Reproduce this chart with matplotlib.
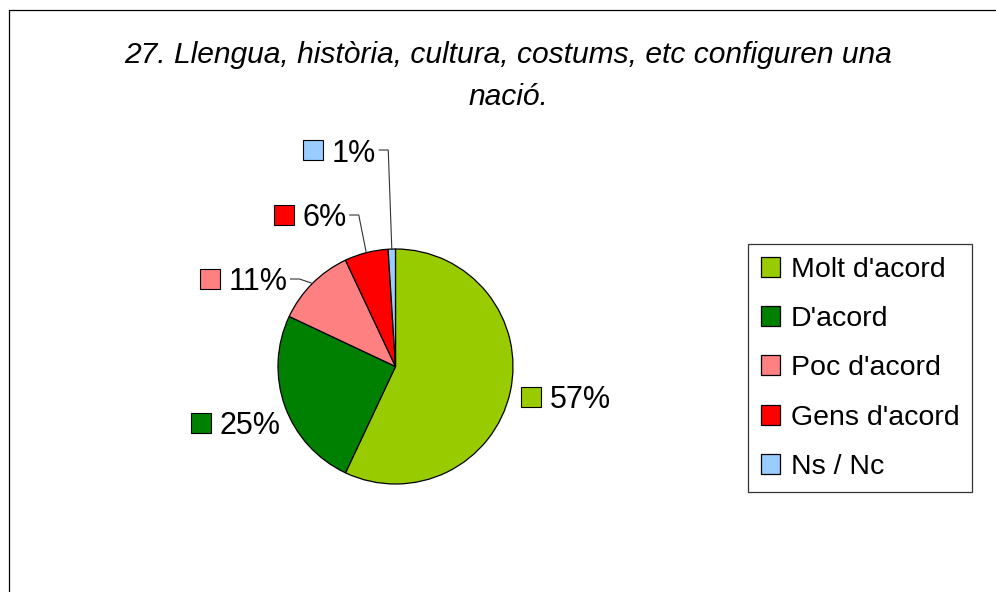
import numpy as np
import matplotlib
matplotlib.use("Agg")
import matplotlib.pyplot as plt
from matplotlib.patches import Rectangle

plt.rcParams["font.family"] = ["Liberation Sans", "DejaVu Sans"]

# data
title = "27. Llengua, història, cultura, costums, etc configuren una\nnació."
categories = ["Molt d'acord", "D'acord", "Poc d'acord", "Gens d'acord", "Ns / Nc"]
shares = [57, 25, 11, 6, 1]
colors = ["#99CC00", "#008000", "#FF8080", "#FF0000", "#99CCFF"]

W, H = 996, 592
fig = plt.figure(figsize=(W / 100, H / 100), dpi=100)


def fx(px):
    return px / W


def fy(py):
    return 1 - py / H


# outer chart border (runs off the right and bottom edge)
fig.patches.append(Rectangle((fx(9), -0.5), 2, fy(10) + 0.5, transform=fig.transFigure,
                             fill=False, edgecolor="black", linewidth=0.9))

# va="baseline" pins the last line, "nació."
fig.text(fx(508), fy(105), title, ha="center", va="baseline", fontsize=21.6,
         style="italic", linespacing=1.65)

# pie, centre (395.5, 366.5), radius 117.5 px
cx, cy, r = 395.5, 366.5, 117.5
ax = fig.add_axes([fx(cx - r), fy(cy + r), 2 * r / W, 2 * r / H])
wedges, _ = ax.pie(shares, colors=colors, startangle=90, counterclock=False,
                   wedgeprops=dict(edgecolor="black", linewidth=0.9))
ax.set_xlim(-1, 1)
ax.set_ylim(-1, 1)
ax.axis("off")

# label layout: centre of the small colour square, in pixels
label_pos = [(530.5, 397), (200.5, 423), (209.5, 279), (283.5, 215), (313, 150)]
leader = [False, False, True, True, True]

renderer = fig.canvas.get_renderer()
for w, val, col, (mx, my), has_line in zip(wedges, shares, colors, label_pos, leader):
    fig.patches.append(Rectangle((fx(mx - 10), fy(my + 10)), 20 / W, 20 / H,
                                 transform=fig.transFigure, facecolor=col,
                                 edgecolor="black", linewidth=0.8))
    t = fig.text(fx(mx + 19), fy(my), f"{val}%", ha="left", va="center_baseline",
                 fontsize=22)
    if has_line:
        bb = t.get_window_extent(renderer)
        x0 = bb.x1 + 3
        x1 = x0 + 9
        ang = np.deg2rad((w.theta1 + w.theta2) / 2)
        rx = cx + r * np.cos(ang)
        ry = cy - r * np.sin(ang)
        fig.add_artist(plt.Line2D([fx(x0), fx(x1), fx(rx)],
                                  [fy(my), fy(my), fy(ry)],
                                  transform=fig.transFigure, color="#333333",
                                  linewidth=0.8))

leg = fig.legend(wedges, categories, loc="upper left",
                 bbox_to_anchor=(fx(748), fy(244)), borderaxespad=0,
                 fontsize=20.5, frameon=True, fancybox=False, edgecolor="black",
                 borderpad=0.44, handlelength=0.7, handleheight=0.7,
                 handletextpad=0.36, labelspacing=0.82)
leg.get_frame().set_linewidth(0.9)

fig.savefig("out.png", dpi=100)
